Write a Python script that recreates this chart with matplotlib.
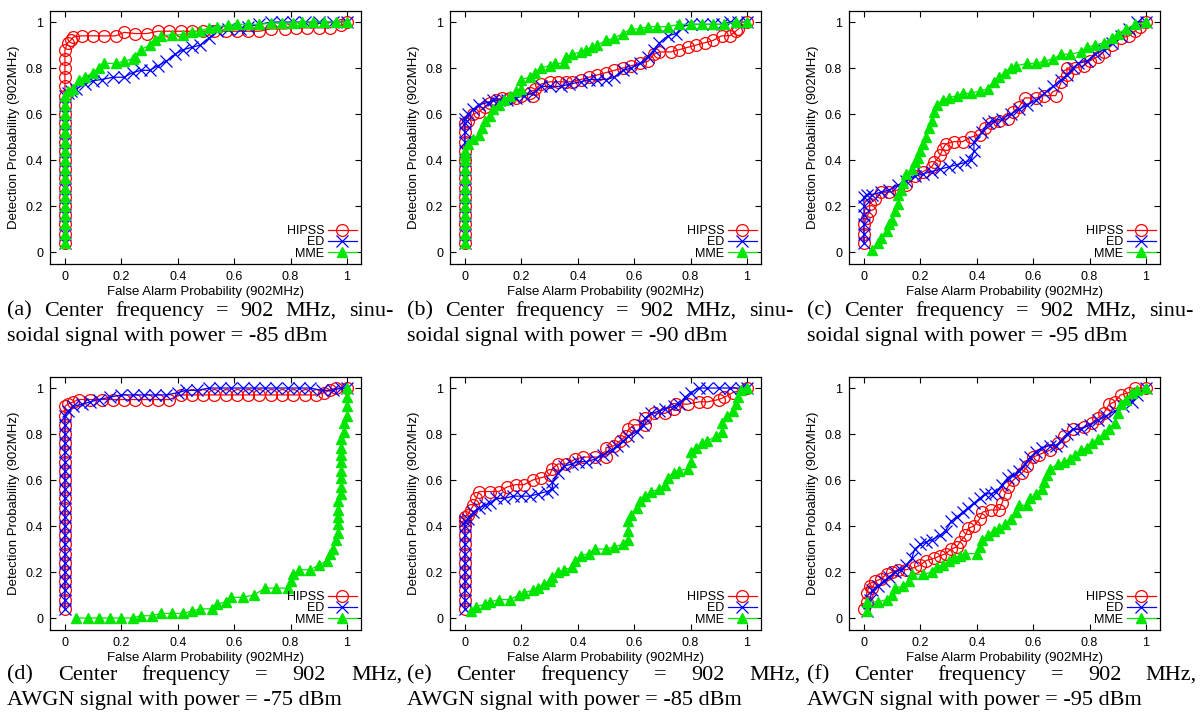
# ROC curves for HIPSS / ED / MME, six test cases (2 x 3 panels)

import matplotlib
matplotlib.use('Agg')
import matplotlib.pyplot as plt
import matplotlib.font_manager as fm

W, H = 1201, 713

# ---- data ----
# vertical runs of points sitting on x = 0
run_88 = [0.04, 0.08, 0.12, 0.16, 0.20, 0.24, 0.28, 0.32, 0.36, 0.40, 0.44,
          0.48, 0.52, 0.56, 0.60, 0.64, 0.68, 0.72, 0.76, 0.80, 0.84, 0.88]
run_68 = [0.04, 0.08, 0.12, 0.16, 0.20, 0.24, 0.28, 0.32, 0.36, 0.40, 0.44,
          0.48, 0.52, 0.56, 0.60, 0.64, 0.68]
run_56 = [0.04, 0.08, 0.12, 0.16, 0.20, 0.24, 0.28, 0.32, 0.36, 0.40, 0.44,
          0.48, 0.52, 0.56]
run_42 = [0.04, 0.08, 0.12, 0.16, 0.20, 0.24, 0.28, 0.32, 0.36, 0.40, 0.42]
run_24 = [0.04, 0.08, 0.12, 0.16, 0.20, 0.24]
run_12 = [0.04, 0.08, 0.12]
run_92 = run_88 + [0.92]

# (a) sinusoid -85 dBm
a_hipss_x = [0.0] * len(run_88) + [0.01, 0.02, 0.03, 0.06, 0.10, 0.14, 0.18, 0.21, 0.25, 0.29, 0.33, 0.37, 0.41, 0.45, 0.49, 0.53,
                                   0.57, 0.61, 0.65, 0.69, 0.73, 0.78, 0.82, 0.86, 0.90, 0.94, 0.98, 1.00]
a_hipss_y = run_88 + [0.91, 0.92, 0.935, 0.94, 0.94, 0.94, 0.94, 0.955, 0.95, 0.95, 0.96, 0.96, 0.96, 0.96, 0.96, 0.96,
                      0.96, 0.96, 0.96, 0.96, 0.97, 0.97, 0.975, 0.975, 0.975, 0.975, 0.985, 1.00]
a_ed_x = [0.0] * len(run_68) + [0.01, 0.02, 0.04, 0.07, 0.10, 0.13, 0.17, 0.21, 0.24, 0.27, 0.30, 0.33, 0.36, 0.39, 0.42, 0.45,
                                0.48, 0.51, 0.54, 0.58, 0.62, 0.65, 0.69, 0.73, 0.77, 0.81, 0.85, 0.90, 0.95, 1.00]
a_ed_y = run_68 + [0.69, 0.70, 0.71, 0.73, 0.745, 0.75, 0.76, 0.76, 0.78, 0.79, 0.79, 0.81, 0.83, 0.86, 0.88, 0.89,
                   0.90, 0.93, 0.96, 0.97, 0.97, 0.98, 0.99, 1.00, 1.00, 1.00, 1.00, 1.00, 1.00, 1.00]
a_mme_x = [0.0] * len(run_68) + [0.01, 0.03, 0.05, 0.07, 0.10, 0.12, 0.14, 0.18, 0.21, 0.24, 0.25, 0.27, 0.30, 0.32, 0.34, 0.38,
                                 0.42, 0.45, 0.48, 0.51, 0.54, 0.58, 0.61, 0.65, 0.69, 0.73, 0.77, 0.81, 0.84, 0.88, 0.92, 0.96, 1.00]
a_mme_y = run_68 + [0.70, 0.71, 0.75, 0.76, 0.78, 0.80, 0.82, 0.82, 0.83, 0.84, 0.85, 0.88, 0.90, 0.92, 0.94, 0.945,
                    0.945, 0.955, 0.96, 0.975, 0.98, 0.985, 0.99, 0.99, 0.99, 0.995, 0.995, 0.995, 1.00, 1.00, 1.00, 1.00, 1.00]

# (b) sinusoid -90 dBm
b_hipss_x = [0.0] * len(run_56) + [0.01, 0.03, 0.05, 0.07, 0.09, 0.11, 0.13, 0.16, 0.18, 0.20, 0.23, 0.24, 0.25, 0.27, 0.30, 0.33,
                                   0.36, 0.38, 0.41, 0.44, 0.47, 0.50, 0.53, 0.56, 0.59, 0.62, 0.65, 0.67, 0.69, 0.73, 0.76, 0.79,
                                   0.82, 0.85, 0.88, 0.91, 0.94, 0.96, 0.97, 1.00]
b_hipss_y = run_56 + [0.57, 0.60, 0.61, 0.63, 0.65, 0.66, 0.67, 0.67, 0.67, 0.68, 0.69, 0.68, 0.71, 0.73, 0.74, 0.74,
                      0.74, 0.74, 0.75, 0.76, 0.77, 0.78, 0.79, 0.80, 0.81, 0.82, 0.83, 0.86, 0.87, 0.87, 0.88, 0.89,
                      0.90, 0.91, 0.92, 0.94, 0.94, 0.96, 0.97, 1.00]
b_ed_x = [0.0] * len(run_56) + [0.0, 0.01, 0.03, 0.05, 0.08, 0.10, 0.12, 0.15, 0.18, 0.21, 0.24, 0.27, 0.30, 0.34, 0.37, 0.41,
                                0.44, 0.47, 0.50, 0.53, 0.56, 0.59, 0.62, 0.65, 0.67, 0.69, 0.72, 0.75, 0.77, 0.80, 0.84,
                                0.88, 0.91, 0.94, 0.97, 1.00]
b_ed_y = run_56 + [0.58, 0.60, 0.62, 0.64, 0.65, 0.66, 0.66, 0.66, 0.67, 0.68, 0.69, 0.72, 0.72, 0.72, 0.73, 0.74,
                   0.75, 0.75, 0.75, 0.76, 0.79, 0.80, 0.82, 0.85, 0.88, 0.91, 0.94, 0.95, 0.98, 0.99, 0.99,
                   0.99, 0.99, 1.00, 1.00, 1.00]
b_mme_x = [0.0] * len(run_42) + [0.0, 0.01, 0.03, 0.05, 0.06, 0.07, 0.09, 0.10, 0.12, 0.14, 0.16, 0.18, 0.20, 0.20, 0.23, 0.25,
                                 0.27, 0.30, 0.32, 0.35, 0.36, 0.38, 0.41, 0.43, 0.45, 0.47, 0.50, 0.53, 0.56, 0.59, 0.62,
                                 0.65, 0.68, 0.72, 0.76, 0.80, 0.84, 0.88, 0.92, 0.96, 1.00]
b_mme_y = run_42 + [0.44, 0.47, 0.49, 0.51, 0.54, 0.57, 0.59, 0.62, 0.64, 0.66, 0.68, 0.70, 0.71, 0.75, 0.76, 0.78,
                    0.80, 0.81, 0.82, 0.82, 0.85, 0.86, 0.87, 0.88, 0.89, 0.90, 0.92, 0.93, 0.95, 0.97, 0.97,
                    0.98, 0.98, 0.98, 0.99, 0.99, 0.99, 0.99, 0.99, 1.00, 1.00]

# (c) sinusoid -95 dBm
c_hipss_x = [0.0] * len(run_12) + [0.01, 0.02, 0.02, 0.04, 0.06, 0.09, 0.12, 0.15, 0.18, 0.21, 0.24, 0.25, 0.27, 0.28, 0.29, 0.32,
                                   0.35, 0.38, 0.41, 0.43, 0.45, 0.48, 0.51, 0.53, 0.55, 0.57, 0.61, 0.64, 0.68, 0.70, 0.72,
                                   0.72, 0.75, 0.78, 0.80, 0.83, 0.85, 0.88, 0.91, 0.94, 0.96, 0.98, 1.00]
c_hipss_y = run_12 + [0.15, 0.18, 0.21, 0.23, 0.26, 0.26, 0.27, 0.29, 0.33, 0.35, 0.37, 0.39, 0.42, 0.45, 0.47, 0.48,
                      0.48, 0.50, 0.51, 0.54, 0.56, 0.57, 0.58, 0.61, 0.63, 0.67, 0.67, 0.68, 0.68, 0.74, 0.77,
                      0.80, 0.80, 0.81, 0.83, 0.85, 0.87, 0.90, 0.93, 0.94, 0.96, 0.98, 1.00]
c_ed_x = [0.0] * len(run_24) + [0.01, 0.03, 0.06, 0.09, 0.12, 0.15, 0.18, 0.21, 0.24, 0.27, 0.30, 0.33, 0.36, 0.38, 0.39, 0.39,
                                0.42, 0.44, 0.46, 0.49, 0.52, 0.55, 0.58, 0.61, 0.64, 0.67, 0.70, 0.72, 0.74, 0.76, 0.79,
                                0.82, 0.85, 0.88, 0.91, 0.94, 0.97, 1.00]
c_ed_y = run_24 + [0.25, 0.25, 0.26, 0.27, 0.29, 0.31, 0.33, 0.34, 0.35, 0.36, 0.37, 0.38, 0.39, 0.40, 0.44, 0.48,
                   0.52, 0.56, 0.57, 0.58, 0.60, 0.62, 0.64, 0.66, 0.69, 0.72, 0.75, 0.77, 0.80, 0.82, 0.83,
                   0.86, 0.88, 0.91, 0.94, 0.97, 1.00, 1.00]
c_mme_x = [0.03, 0.05, 0.06, 0.08, 0.09, 0.10, 0.11, 0.12, 0.12, 0.13, 0.14, 0.15, 0.17, 0.18, 0.19, 0.20, 0.21, 0.22,
           0.23, 0.24, 0.25, 0.26, 0.28, 0.30, 0.33, 0.35, 0.38, 0.41, 0.44, 0.46, 0.48, 0.50, 0.52, 0.54, 0.58, 0.61,
           0.64, 0.67, 0.70, 0.73, 0.77, 0.79, 0.82, 0.85, 0.88, 0.90, 0.93, 0.96, 1.00]
c_mme_y = [0.01, 0.04, 0.06, 0.09, 0.12, 0.14, 0.18, 0.21, 0.25, 0.27, 0.30, 0.34, 0.36, 0.39, 0.41, 0.44, 0.47, 0.50,
           0.54, 0.57, 0.61, 0.64, 0.66, 0.67, 0.68, 0.69, 0.69, 0.70, 0.71, 0.74, 0.76, 0.78, 0.80, 0.81, 0.82, 0.82,
           0.83, 0.84, 0.86, 0.86, 0.87, 0.89, 0.90, 0.91, 0.93, 0.95, 0.97, 0.99, 1.00]

# (d) AWGN -75 dBm
d_hipss_x = [0.0] * len(run_92) + [0.01, 0.03, 0.05, 0.09, 0.13, 0.17, 0.21, 0.25, 0.29, 0.33, 0.37, 0.41, 0.45, 0.49, 0.53,
                                   0.57, 0.61, 0.65, 0.69, 0.73, 0.77, 0.81, 0.85, 0.89, 0.92, 0.94, 0.96, 1.00]
d_hipss_y = run_92 + [0.93, 0.94, 0.95, 0.95, 0.95, 0.95, 0.95, 0.95, 0.95, 0.95, 0.95, 0.97, 0.97, 0.97, 0.97,
                      0.97, 0.97, 0.97, 0.97, 0.97, 0.97, 0.97, 0.97, 0.97, 0.98, 0.99, 1.00, 1.00]
d_ed_x = [0.0] * len(run_88) + [0.01, 0.03, 0.06, 0.09, 0.12, 0.16, 0.20, 0.24, 0.28, 0.32, 0.36, 0.40, 0.43, 0.47, 0.51,
                                0.55, 0.59, 0.63, 0.67, 0.71, 0.75, 0.79, 0.83, 0.87, 0.91, 0.95, 0.98, 1.00]
d_ed_y = run_88 + [0.90, 0.92, 0.93, 0.94, 0.95, 0.96, 0.97, 0.97, 0.97, 0.97, 0.97, 0.98, 0.99, 0.99, 1.00,
                   1.00, 1.00, 1.00, 1.00, 1.00, 1.00, 1.00, 1.00, 1.00, 0.99, 0.99, 1.00, 1.00]
d_mme_x = [0.04, 0.08, 0.12, 0.16, 0.20, 0.24, 0.27, 0.31, 0.34, 0.38, 0.42, 0.45, 0.48, 0.52, 0.54, 0.57, 0.59, 0.63,
           0.67, 0.71, 0.75, 0.79, 0.80, 0.81, 0.83, 0.87, 0.90, 0.93, 0.94, 0.95, 0.96, 0.97, 0.97, 0.97, 0.97, 0.97,
           0.98, 0.98, 0.98, 0.98, 0.98, 0.98, 0.98, 0.98, 0.99, 0.99, 1.00, 1.00, 1.00, 1.00]
d_mme_y = [0.00, 0.00, 0.00, 0.00, 0.00, 0.00, 0.01, 0.01, 0.02, 0.02, 0.02, 0.03, 0.04, 0.04, 0.06, 0.07, 0.09, 0.09,
           0.10, 0.13, 0.13, 0.13, 0.16, 0.19, 0.21, 0.21, 0.23, 0.25, 0.28, 0.30, 0.34, 0.37, 0.41, 0.44, 0.47, 0.51,
           0.54, 0.57, 0.61, 0.64, 0.68, 0.71, 0.74, 0.78, 0.81, 0.85, 0.88, 0.92, 0.96, 1.00]

# (e) AWGN -85 dBm
e_hipss_x = [0.0] * len(run_42) + [0.0, 0.01, 0.02, 0.03, 0.04, 0.05, 0.09, 0.12, 0.15, 0.18, 0.21, 0.24, 0.27, 0.30, 0.31, 0.33,
                                   0.36, 0.39, 0.42, 0.46, 0.50, 0.50, 0.53, 0.55, 0.57, 0.58, 0.60, 0.64, 0.64, 0.67, 0.71,
                                   0.74, 0.75, 0.79, 0.83, 0.86, 0.90, 0.92, 0.95, 1.00]
e_hipss_y = run_42 + [0.44, 0.45, 0.47, 0.49, 0.52, 0.55, 0.55, 0.55, 0.57, 0.58, 0.58, 0.60, 0.61, 0.62, 0.65, 0.67,
                      0.67, 0.69, 0.70, 0.70, 0.70, 0.74, 0.75, 0.77, 0.79, 0.82, 0.84, 0.84, 0.87, 0.89, 0.89,
                      0.91, 0.93, 0.93, 0.94, 0.94, 0.95, 0.96, 0.98, 1.00]
e_ed_x = [0.0] * len(run_42) + [0.01, 0.03, 0.05, 0.07, 0.09, 0.11, 0.14, 0.17, 0.20, 0.23, 0.26, 0.29, 0.31, 0.31, 0.33, 0.35,
                                0.38, 0.40, 0.43, 0.46, 0.49, 0.52, 0.54, 0.56, 0.58, 0.61, 0.63, 0.64, 0.66, 0.69, 0.71,
                                0.74, 0.76, 0.78, 0.80, 0.83, 0.86, 0.90, 0.94, 0.98, 1.00]
e_ed_y = run_42 + [0.43, 0.46, 0.48, 0.49, 0.50, 0.52, 0.52, 0.53, 0.53, 0.53, 0.54, 0.55, 0.56, 0.59, 0.63, 0.66,
                   0.67, 0.68, 0.68, 0.69, 0.71, 0.73, 0.75, 0.77, 0.79, 0.81, 0.84, 0.87, 0.89, 0.90, 0.91,
                   0.92, 0.93, 0.96, 0.98, 1.00, 1.00, 1.00, 1.00, 1.00, 1.00]
e_mme_x = [0.02, 0.04, 0.07, 0.09, 0.12, 0.16, 0.19, 0.21, 0.24, 0.26, 0.28, 0.30, 0.31, 0.33, 0.35, 0.38, 0.39, 0.41,
           0.44, 0.46, 0.50, 0.53, 0.56, 0.58, 0.58, 0.58, 0.59, 0.61, 0.62, 0.64, 0.66, 0.69, 0.71, 0.72, 0.74, 0.76,
           0.79, 0.80, 0.80, 0.82, 0.84, 0.86, 0.89, 0.91, 0.91, 0.93, 0.95, 0.96, 0.97, 0.98, 1.00]
e_mme_y = [0.03, 0.05, 0.06, 0.07, 0.08, 0.08, 0.10, 0.11, 0.12, 0.13, 0.15, 0.16, 0.18, 0.20, 0.21, 0.22, 0.25, 0.27,
           0.28, 0.30, 0.30, 0.31, 0.32, 0.34, 0.38, 0.42, 0.45, 0.48, 0.51, 0.53, 0.55, 0.56, 0.58, 0.61, 0.63, 0.64,
           0.65, 0.68, 0.72, 0.74, 0.76, 0.77, 0.79, 0.81, 0.85, 0.88, 0.90, 0.93, 0.96, 0.99, 1.00]

# (f) AWGN -95 dBm
f_hipss_x = [0.00, 0.01, 0.01, 0.02, 0.03, 0.04, 0.06, 0.08, 0.10, 0.12, 0.15, 0.18, 0.20, 0.22, 0.25, 0.27, 0.29, 0.31,
             0.33, 0.34, 0.36, 0.37, 0.39, 0.41, 0.42, 0.45, 0.48, 0.49, 0.50, 0.51, 0.53, 0.56, 0.58, 0.60, 0.62, 0.66,
             0.69, 0.71, 0.74, 0.78, 0.81, 0.83, 0.85, 0.87, 0.89, 0.91, 0.94, 0.96, 1.00]
f_hipss_y = [0.04, 0.07, 0.11, 0.14, 0.13, 0.16, 0.17, 0.19, 0.20, 0.21, 0.21, 0.22, 0.23, 0.25, 0.26, 0.27, 0.28, 0.30,
             0.31, 0.33, 0.36, 0.39, 0.40, 0.43, 0.46, 0.47, 0.47, 0.50, 0.54, 0.57, 0.60, 0.63, 0.66, 0.70, 0.71, 0.73,
             0.76, 0.79, 0.82, 0.83, 0.85, 0.87, 0.89, 0.93, 0.94, 0.97, 0.98, 1.00, 1.00]
f_ed_x = [0.01, 0.02, 0.03, 0.05, 0.07, 0.09, 0.11, 0.13, 0.15, 0.17, 0.18, 0.20, 0.22, 0.24, 0.27, 0.29, 0.31, 0.33,
          0.35, 0.37, 0.39, 0.41, 0.43, 0.45, 0.47, 0.49, 0.51, 0.53, 0.55, 0.57, 0.59, 0.61, 0.63, 0.66, 0.68, 0.70,
          0.72, 0.74, 0.77, 0.80, 0.83, 0.86, 0.89, 0.92, 0.95, 0.97, 1.00]
f_ed_y = [0.03, 0.08, 0.12, 0.14, 0.16, 0.18, 0.20, 0.21, 0.23, 0.26, 0.30, 0.32, 0.33, 0.34, 0.36, 0.38, 0.42, 0.44,
          0.46, 0.48, 0.50, 0.52, 0.54, 0.54, 0.55, 0.58, 0.61, 0.62, 0.64, 0.67, 0.70, 0.72, 0.74, 0.75, 0.75, 0.77,
          0.80, 0.82, 0.82, 0.84, 0.86, 0.88, 0.90, 0.92, 0.94, 0.97, 1.00]
f_mme_x = [0.01, 0.01, 0.05, 0.08, 0.10, 0.11, 0.14, 0.16, 0.17, 0.21, 0.24, 0.26, 0.28, 0.30, 0.32, 0.34, 0.36, 0.40,
           0.41, 0.42, 0.44, 0.46, 0.48, 0.50, 0.52, 0.54, 0.55, 0.58, 0.59, 0.61, 0.63, 0.64, 0.65, 0.66, 0.69, 0.71,
           0.73, 0.75, 0.77, 0.79, 0.81, 0.83, 0.85, 0.87, 0.89, 0.90, 0.91, 0.93, 0.95, 0.97, 1.00]
f_mme_y = [0.03, 0.07, 0.07, 0.08, 0.10, 0.13, 0.14, 0.16, 0.19, 0.19, 0.20, 0.22, 0.23, 0.25, 0.26, 0.27, 0.28, 0.28,
           0.31, 0.34, 0.36, 0.38, 0.39, 0.41, 0.43, 0.46, 0.49, 0.49, 0.52, 0.54, 0.56, 0.59, 0.62, 0.65, 0.67, 0.68,
           0.69, 0.71, 0.73, 0.74, 0.76, 0.78, 0.80, 0.82, 0.85, 0.89, 0.93, 0.95, 0.98, 0.99, 1.00]

panels = [
    (a_hipss_x, a_hipss_y, a_ed_x, a_ed_y, a_mme_x, a_mme_y),
    (b_hipss_x, b_hipss_y, b_ed_x, b_ed_y, b_mme_x, b_mme_y),
    (c_hipss_x, c_hipss_y, c_ed_x, c_ed_y, c_mme_x, c_mme_y),
    (d_hipss_x, d_hipss_y, d_ed_x, d_ed_y, d_mme_x, d_mme_y),
    (e_hipss_x, e_hipss_y, e_ed_x, e_ed_y, e_mme_x, e_mme_y),
    (f_hipss_x, f_hipss_y, f_ed_x, f_ed_y, f_mme_x, f_mme_y),
]

captions = [
    ("(a) Center frequency = 902 MHz, sinu-", "soidal signal with power = -85 dBm"),
    ("(b) Center frequency = 902 MHz, sinu-", "soidal signal with power = -90 dBm"),
    ("(c) Center frequency = 902 MHz, sinu-", "soidal signal with power = -95 dBm"),
    ("(d) Center frequency = 902 MHz,", "AWGN signal with power = -75 dBm"),
    ("(e) Center frequency = 902 MHz,", "AWGN signal with power = -85 dBm"),
    ("(f) Center frequency = 902 MHz,", "AWGN signal with power = -95 dBm"),
]

ticks = [0, 0.2, 0.4, 0.6, 0.8, 1]
tick_labels = ['0', '0.2', '0.4', '0.6', '0.8', '1']

# ---- fonts ----
names = {f.name for f in fm.fontManager.ttflist}
sans = 'Liberation Sans' if 'Liberation Sans' in names else 'DejaVu Sans'
serif = 'Liberation Serif' if 'Liberation Serif' in names else 'DejaVu Serif'
plt.rcParams['font.family'] = sans

fig = plt.figure(figsize=(W / 100, H / 100), dpi=100)

# axes boxes in pixels: left, top, width, height
col_left = [50, 450, 849]
row_top = [11, 377]
ax_w, ax_h = 311, 253

for i, (hx, hy, ex, ey, mx, my) in enumerate(panels):
    r, c = divmod(i, 3)
    l, t = col_left[c], row_top[r]
    ax = fig.add_axes([l / W, 1 - (t + ax_h) / H, ax_w / W, ax_h / H])
    ax.plot(hx, hy, color='#ff0000', lw=0.9, marker='o', ms=8.5, mfc='none', mec='#ff0000', mew=0.9, label='HIPSS')
    ax.plot(ex, ey, color='#0000ff', lw=0.9, marker='x', ms=8.5, mew=0.9, label='ED')
    ax.plot(mx, my, color='#00e600', lw=0.9, marker='^', ms=7, mec='#00e600', label='MME')
    ax.set_xlim(-0.053, 1.05)
    ax.set_ylim(-0.052, 1.048)
    ax.set_xticks(ticks)
    ax.set_xticklabels(tick_labels)
    ax.set_yticks(ticks)
    ax.set_yticklabels(tick_labels)
    ax.tick_params(direction='in', top=True, right=True, length=4, width=0.8, labelsize=9, pad=5)
    for s in ax.spines.values():
        s.set_linewidth(0.9)
    ax.set_xlabel('False Alarm Probability (902MHz)', fontsize=9.5, labelpad=2)
    ax.set_ylabel('Detection Probability (902MHz)', fontsize=9.5, labelpad=4)
    ax.legend(loc='lower right', frameon=False, markerfirst=False, numpoints=1, fontsize=9,
              handlelength=2.3, handletextpad=0.3, labelspacing=-0.05, borderaxespad=0.25,
              borderpad=0.1)

# ---- captions (first line justified, like the paper layout) ----
renderer = fig.canvas.get_renderer()
cap_size = 16
line_left = [7, 407, 807]
line_right = [(393, 793, 1193), (402, 800, 1197)]
line_y = [(311, 337), (675, 700)]


def justify(words, x0, x1, y):
    items = [fig.text(0, 1 - y / H, w, family=serif, fontsize=cap_size, va='center', ha='left') for w in words]
    widths = [it.get_window_extent(renderer).width for it in items]
    gap = (x1 - x0 - sum(widths)) / (len(items) - 1)
    x = x0
    for it, w in zip(items, widths):
        it.set_x(x / W)
        x += w + gap


for i, (line1, line2) in enumerate(captions):
    r, c = divmod(i, 3)
    justify(line1.split(' '), line_left[c], line_right[r][c], line_y[r][0])
    fig.text(line_left[c] / W, 1 - line_y[r][1] / H, line2, family=serif, fontsize=cap_size, va='center', ha='left')

fig.savefig('out.png', dpi=100)
